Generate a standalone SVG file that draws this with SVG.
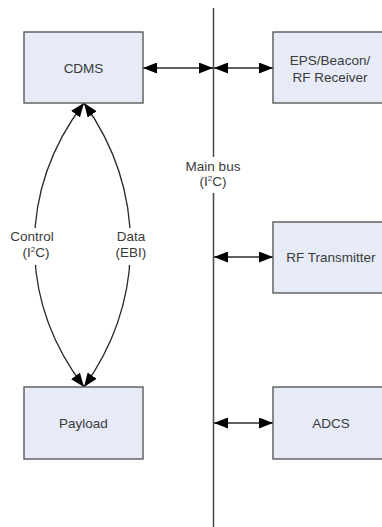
<svg xmlns="http://www.w3.org/2000/svg" width="382" height="527" viewBox="0 0 382 527">
  <style>
    .box { fill: #e6ebf7; stroke: #5a5a5a; stroke-width: 1.4; }
    .lbl { font-family: "Liberation Sans", Arial, sans-serif; font-size: 13.5px; fill: #3a3a3a; text-anchor: middle; }
    .wire { fill: none; stroke: #2a2a2a; stroke-width: 1.3; }
    .bus { fill: none; stroke: #4a4a4a; stroke-width: 1.5; }
  </style>
  <defs>
    <marker id="head" viewBox="0 0 14 11" refX="14" refY="5.5" markerWidth="14" markerHeight="11" markerUnits="userSpaceOnUse" orient="auto-start-reverse">
      <path d="M0,0 L14,5.5 L0,11 z" fill="#000"/>
    </marker>
  </defs>
  <rect width="382" height="527" fill="#fff"/>

  <!-- main bus -->
  <g id="bus">
    <path class="bus" d="M213.5,8 V157 M213.5,193 V527"/>
    <text class="lbl" x="213" y="171">Main bus</text>
    <text class="lbl" x="213" y="186">(I<tspan font-size="8" dy="-5">2</tspan><tspan dy="5">C)</tspan></text>
  </g>

  <!-- connectors -->
  <g id="connectors">
    <path class="wire" d="M143,68 H213" marker-start="url(#head)" marker-end="url(#head)"/>
    <path class="wire" d="M214,68 H273" marker-start="url(#head)" marker-end="url(#head)"/>
    <path class="wire" d="M214,257 H273" marker-start="url(#head)" marker-end="url(#head)"/>
    <path class="wire" d="M214,423 H273" marker-start="url(#head)" marker-end="url(#head)"/>
    <path class="wire" d="M84,103 C18,190 18,300 84,387" marker-start="url(#head)" marker-end="url(#head)"/>
    <path class="wire" d="M84,103 C146,190 146,300 84,387" marker-start="url(#head)" marker-end="url(#head)"/>
    <rect x="6" y="228" width="54" height="37" fill="#fff"/>
    <rect x="108" y="228" width="46" height="37" fill="#fff"/>
    <text class="lbl" x="32" y="241">Control</text>
    <text class="lbl" x="36" y="257">(I<tspan font-size="8" dy="-5">2</tspan><tspan dy="5">C)</tspan></text>
    <text class="lbl" x="131" y="241">Data</text>
    <text class="lbl" x="131" y="257">(EBI)</text>
  </g>

  <g id="cdms">
    <rect class="box" x="24" y="32" width="119" height="71"/>
    <text class="lbl" x="83.5" y="72.5">CDMS</text>
  </g>
  <g id="eps">
    <rect class="box" x="273" y="32" width="117" height="71"/>
    <text class="lbl" x="330" y="65">EPS/Beacon/</text>
    <text class="lbl" x="330" y="82">RF Receiver</text>
  </g>
  <g id="rf-transmitter">
    <rect class="box" x="273" y="222" width="117" height="71"/>
    <text class="lbl" x="331" y="261.5">RF Transmitter</text>
  </g>
  <g id="payload">
    <rect class="box" x="24" y="387" width="119" height="72"/>
    <text class="lbl" x="83.5" y="427.5">Payload</text>
  </g>
  <g id="adcs">
    <rect class="box" x="273" y="387" width="117" height="72"/>
    <text class="lbl" x="331" y="427.5">ADCS</text>
  </g>
</svg>
